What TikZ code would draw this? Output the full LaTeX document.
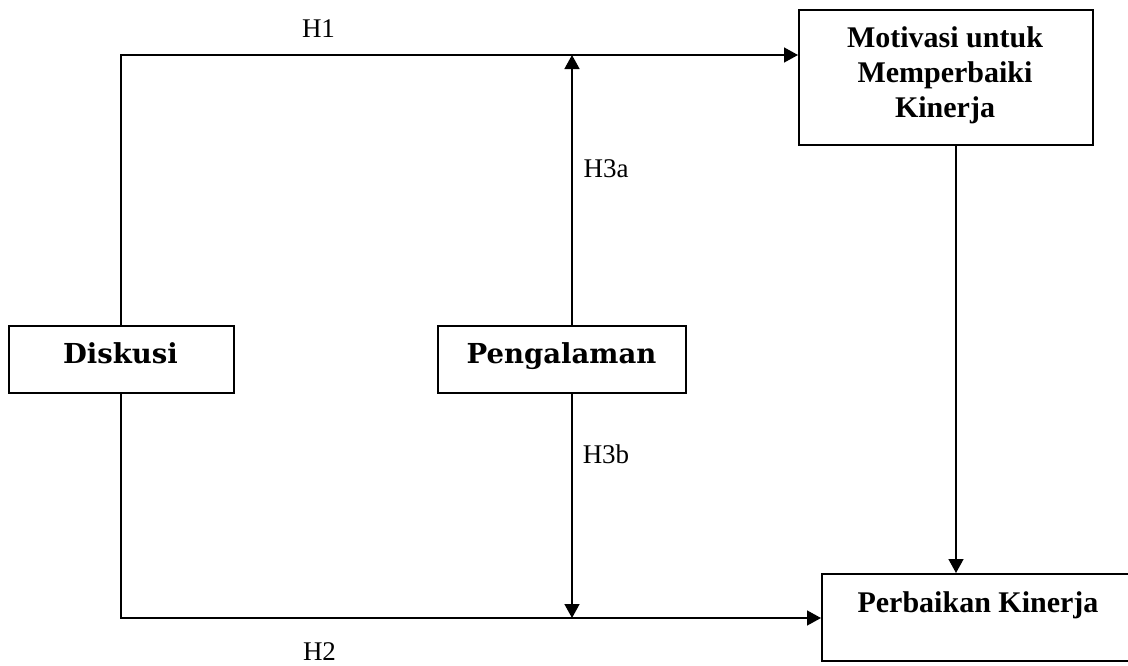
\documentclass[tikz,border=0pt]{standalone}
\usepackage{fontspec}
\setmainfont{Liberation Serif}
\newfontfamily\slabfont{DejaVu Serif}
\usetikzlibrary{arrows.meta}
\tikzset{
  box/.style={draw, line width=2pt, rectangle, inner sep=0pt, anchor=north west},
  conn/.style={line width=1.5pt},
  arr/.style={conn, -{Triangle[length=14pt,width=15pt]}},
  hlab/.style={anchor=base, inner sep=0pt, font=\fontsize{27}{32}\selectfont},
  slabtxt/.style={anchor=base, inner sep=0pt, font=\slabfont\bfseries\fontsize{27.5}{32}\selectfont},
  timtxt/.style={inner sep=0pt, font=\bfseries\fontsize{30}{35}\selectfont}
}
\begin{document}
\begin{tikzpicture}[x=1pt,y=-1pt]
\useasboundingbox (0,0) rectangle (1128,665);
% boxes
\node[box, minimum width=225pt, minimum height=67pt] (disk) at (8,325) {};
\node[box, minimum width=248pt, minimum height=67pt] (peng) at (437,325) {};
\node[box, minimum width=294pt, minimum height=135pt] (motiv) at (798,9) {};
\node[box, minimum width=330pt, minimum height=87pt] (perb) at (821,573) {};
% box texts
\node[slabtxt] (diskt) at (120.5,363) {Diskusi};
\node[slabtxt] (pengt) at (561.5,363) {Pengalaman};
\node[timtxt, align=center, anchor=base] (motivt) at (945,117) {Motivasi untuk\\Memperbaiki\\Kinerja};
\node[timtxt, anchor=base] (perbt) at (978,612) {Perbaikan Kinerja};
% helper coordinates
\coordinate (top) at (572,55);
\coordinate (bot) at (572,618);
\coordinate (mx) at (956,0);
% connectors
\draw[arr] (disk.north -| 121,0) |- (motiv.west |- top);
\draw[arr] (disk.south -| 121,0) |- (perb.west |- bot);
\draw[arr] (peng.north -| top) -- (top);
\draw[arr] (peng.south -| bot) -- (bot);
\draw[arr] (motiv.south -| mx) -- (perb.north -| mx);
% labels
\node[hlab] (h1) at (318.5,37) {H1};
\node[hlab] (h3a) at (606,177) {H3a};
\node[hlab] (h3b) at (606,463) {H3b};
\node[hlab] (h2) at (319.5,660) {H2};
\end{tikzpicture}
\end{document}
